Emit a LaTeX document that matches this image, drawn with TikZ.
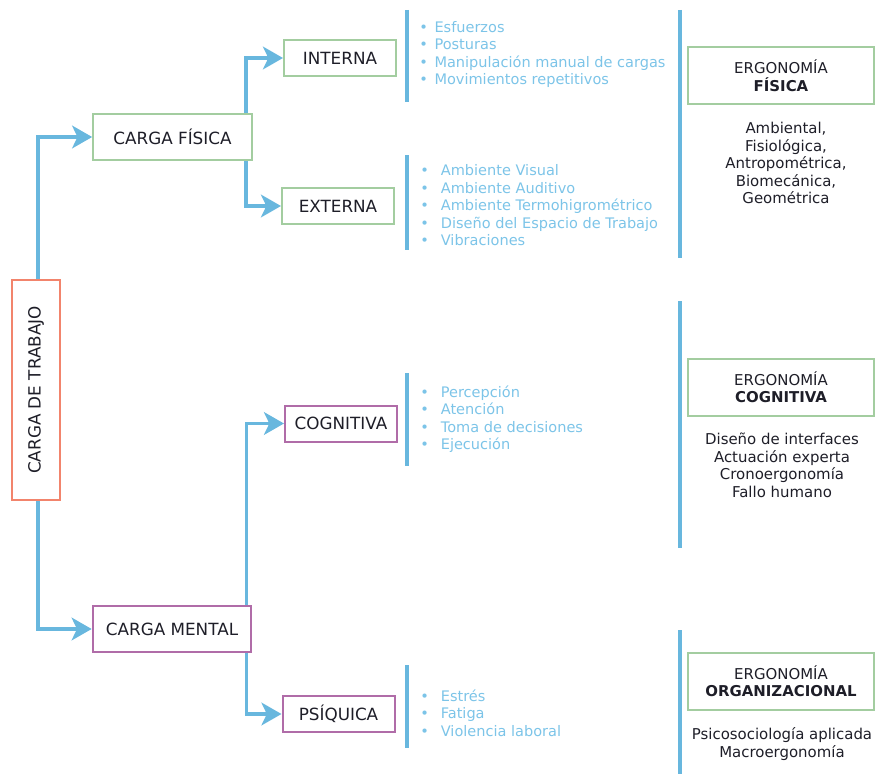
\documentclass[tikz,border=0pt]{standalone}
\usepackage{fontspec}
\setmainfont{DejaVu Sans}
\usetikzlibrary{arrows.meta}
\definecolor{lineblue}{RGB}{104,183,222}
\definecolor{listblue}{RGB}{124,196,232}
\definecolor{boxgreen}{RGB}{163,205,160}
\definecolor{boxred}{RGB}{242,132,108}
\definecolor{boxpurple}{RGB}{176,108,168}
\definecolor{ink}{RGB}{30,30,40}
\tikzset{
  box/.style={draw=#1, line width=1.5pt, fill=white, text=ink, inner sep=0pt, font=\fontsize{12.6}{14}\selectfont},
  small/.style={minimum width=84pt, minimum height=27pt},
  mid/.style={minimum width=119pt, minimum height=34.5pt},
  ergo/.style={box=boxgreen, minimum width=139.5pt, minimum height=42.75pt, align=center, font=\fontsize{11.2}{13.1}\selectfont},
  lst/.style={text=listblue, align=left, anchor=west, inner sep=0pt, font=\fontsize{10.9}{13.1}\selectfont},
  desc/.style={text=ink, align=center, inner sep=0pt},
  conn/.style={draw=lineblue, line width=2.6pt, -{Stealth[length=15pt, width=17pt, inset=4pt]}},
  bar/.style={draw=lineblue, line width=2.6pt}
}
\newcommand{\bl}{\textbullet\hspace{5pt}}
\newcommand{\bw}{\textbullet\hspace{9pt}}
\begin{document}
\begin{tikzpicture}[x=0.75pt, y=-0.75pt, font=\fontsize{11.2}{13.1}\selectfont]
  \useasboundingbox (0,0) rectangle (875,774);
  % left column
  \node[box=boxred, rotate=90, minimum width=165pt, minimum height=36pt] (trabajo) at (36,390) {CARGA DE TRABAJO};
  \node[box=boxgreen, mid] (fisica) at (172.5,137) {CARGA FÍSICA};
  \node[box=boxpurple, mid] (mental) at (172,629) {CARGA MENTAL};
  % second level
  \node[box=boxgreen, small] (interna) at (340,58) {INTERNA};
  \node[box=boxgreen, small] (externa) at (338,206) {EXTERNA};
  \node[box=boxpurple, small] (cognitiva) at (341,423.5) {COGNITIVA};
  \node[box=boxpurple, small] (psiquica) at (338.5,714) {PSÍQUICA};
  % connectors
  \draw[conn] ([xshift=1.5pt]trabajo.east) |- (fisica.west);
  \draw[conn] ([xshift=1.5pt]trabajo.west) |- (mental.west);
  \draw[conn] ([xshift=-5.25pt]fisica.north east) |- (interna.west);
  \draw[conn] ([xshift=-5.25pt]fisica.south east) |- (externa.west);
  \draw[conn] ([xshift=-4.5pt]mental.north east) |- (cognitiva.west);
  \draw[conn] ([xshift=-4.5pt]mental.south east) |- (psiquica.west);
  % lists
  \draw[bar] (407,10) -- (407,102);
  \draw[bar] (407,155) -- (407,250);
  \draw[bar] (407,373) -- (407,466);
  \draw[bar] (407,665) -- (407,748);
  \node[lst] (lint) at (419,54.5) {\bl Esfuerzos\\ \bl Posturas\\ \bl Manipulación manual de cargas\\ \bl Movimientos repetitivos};
  \node[lst] (lext) at (420,205.5) {\bw Ambiente Visual\\ \bw Ambiente Auditivo\\ \bw Ambiente Termohigrométrico\\ \bw Diseño del Espacio de Trabajo\\ \bw Vibraciones};
  \node[lst] (lcog) at (420,419) {\bw Percepción\\ \bw Atención\\ \bw Toma de decisiones\\ \bw Ejecución};
  \node[lst] (lpsi) at (420,713) {\bw Estrés\\ \bw Fatiga\\ \bw Violencia laboral};
  % ergonomia column
  \draw[bar] (680,10) -- (680,258);
  \draw[bar] (680,301) -- (680,548);
  \draw[bar] (680,630) -- (680,774);
  \node[ergo] (efis) at (781,75.5) {ERGONOMÍA\\ \textbf{FÍSICA}};
  \node[ergo] (ecog) at (781,387) {ERGONOMÍA\\ \textbf{COGNITIVA}};
  \node[ergo] (eorg) at (781,681) {ERGONOMÍA\\ \textbf{ORGANIZACIONAL}};
  \node[desc] (dfis) at (786,163) {Ambiental,\\ Fisiológica,\\ Antropométrica,\\ Biomecánica,\\ Geométrica};
  \node[desc] (dcog) at (782,465.5) {Diseño de interfaces\\ Actuación experta\\ Cronoergonomía\\ Fallo humano};
  \node[desc] (dorg) at (782,744) {Psicosociología aplicada\\ Macroergonomía};
\end{tikzpicture}
\end{document}
